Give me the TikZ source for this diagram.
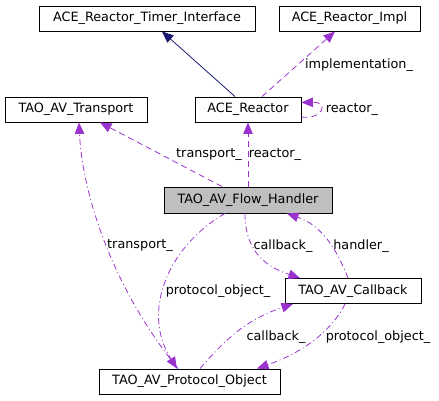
\documentclass[tikz,border=0pt]{standalone}
\usepackage{fontspec}
\setmainfont{DejaVu Sans}
\usepackage{tikz}
\usetikzlibrary{arrows.meta}

\definecolor{memberpurple}{HTML}{9A32CD}
\definecolor{basenavy}{HTML}{191970}
\definecolor{focusgray}{HTML}{BFBFBF}

\begin{document}
\begin{tikzpicture}[x=1pt, y=-1pt,
    every node/.style={font=\fontsize{12.8}{15}\selectfont},
    classbox/.style={draw, rectangle, line width=0.9pt, minimum height=25pt, inner sep=0pt},
    usage/.style={memberpurple, line width=0.8pt, dash pattern=on 6pt off 4pt, -{Triangle[length=11.5pt,width=9.5pt]}},
    usagedot/.style={memberpurple, line width=0.8pt, dash pattern=on 6pt off 3pt on 1pt off 3pt, -{Triangle[length=11.5pt,width=9.5pt]}},
    inherit/.style={basenavy, line width=0.8pt, -{Triangle[length=11.5pt,width=9.5pt]}}]
  \useasboundingbox (0,0) rectangle (439,400);

  % Classes
  \node (timer)     [classbox, minimum width=216pt] at (147,18.5)   {ACE\_Reactor\_Timer\_Interface};
  \node (impl)      [classbox, minimum width=141pt] at (349.5,18.5) {ACE\_Reactor\_Impl};
  \node (transport) [classbox, minimum width=142pt] at (76,109.5)   {TAO\_AV\_Transport};
  \node (reactor)   [classbox, minimum width=106pt] at (248,109.5)  {ACE\_Reactor};
  \node (flow)      [classbox, minimum width=168pt, minimum height=26pt, fill=focusgray] at (248,200) {TAO\_AV\_Flow\_Handler};
  \node (callback)  [classbox, minimum width=136pt] at (353,291)    {TAO\_AV\_Callback};
  \node (protocol)  [classbox, minimum width=181pt] at (189.5,381.5) {TAO\_AV\_Protocol\_Object};

  % Base class
  \draw[inherit] ([xshift=-13pt]reactor.north) -- ([xshift=15pt]timer.south);

  % Members of ACE_Reactor
  \draw[usage] ([xshift=14pt]reactor.north) -- ([xshift=-14.5pt]impl.south);
  \node (implLbl) at (359,65) {implementation\_};
  \draw[usage] ([yshift=-7.5pt]reactor.east) .. controls (322,120) and (330,102) .. ([yshift=7pt]reactor.east);
  \node (selfLbl) at (352,110) {reactor\_};

  % Members of TAO_AV_Flow_Handler
  \draw[usage] ([xshift=-26pt]flow.north) -- ([xshift=24pt]transport.south);
  \node (flowTransLbl) at (209,155) {transport\_};
  \draw[usage] (flow.north) -- (reactor.south);
  \node (flowReactLbl) at (275,155) {reactor\_};
  \draw[usagedot] ([xshift=-23pt]flow.south) .. controls (170,245) and (140,310) .. ([xshift=-12.5pt]protocol.north);
  \node (flowProtoLbl) at (218,291) {protocol\_object\_};
  \draw[usagedot] ([xshift=-3pt]flow.south) .. controls (245,255) and (270,268) .. ([xshift=-53pt]callback.north);
  \node (flowCbLbl) at (283,246) {callback\_};

  % Members of TAO_AV_Callback
  \draw[usagedot] ([xshift=-5pt]callback.north) .. controls (335,245) and (320,225) .. ([xshift=39pt]flow.south);
  \node (cbHandlerLbl) at (361,246) {handler\_};
  \draw[usagedot] ([xshift=-8pt]callback.south) .. controls (335,325) and (310,350) .. ([xshift=67.5pt]protocol.north);
  \node (cbProtoLbl) at (378,337) {protocol\_object\_};

  % Members of TAO_AV_Protocol_Object
  \draw[usagedot] ([xshift=-11.5pt]protocol.north) .. controls (110,285) and (82,190) .. ([xshift=3pt]transport.south);
  \node (protoTransLbl) at (140,246) {transport\_};
  \draw[usagedot] ([xshift=10.5pt]protocol.north) .. controls (225,340) and (245,320) .. ([xshift=-60pt]callback.south);
  \node (protoCbLbl) at (276,337) {callback\_};
\end{tikzpicture}
\end{document}
